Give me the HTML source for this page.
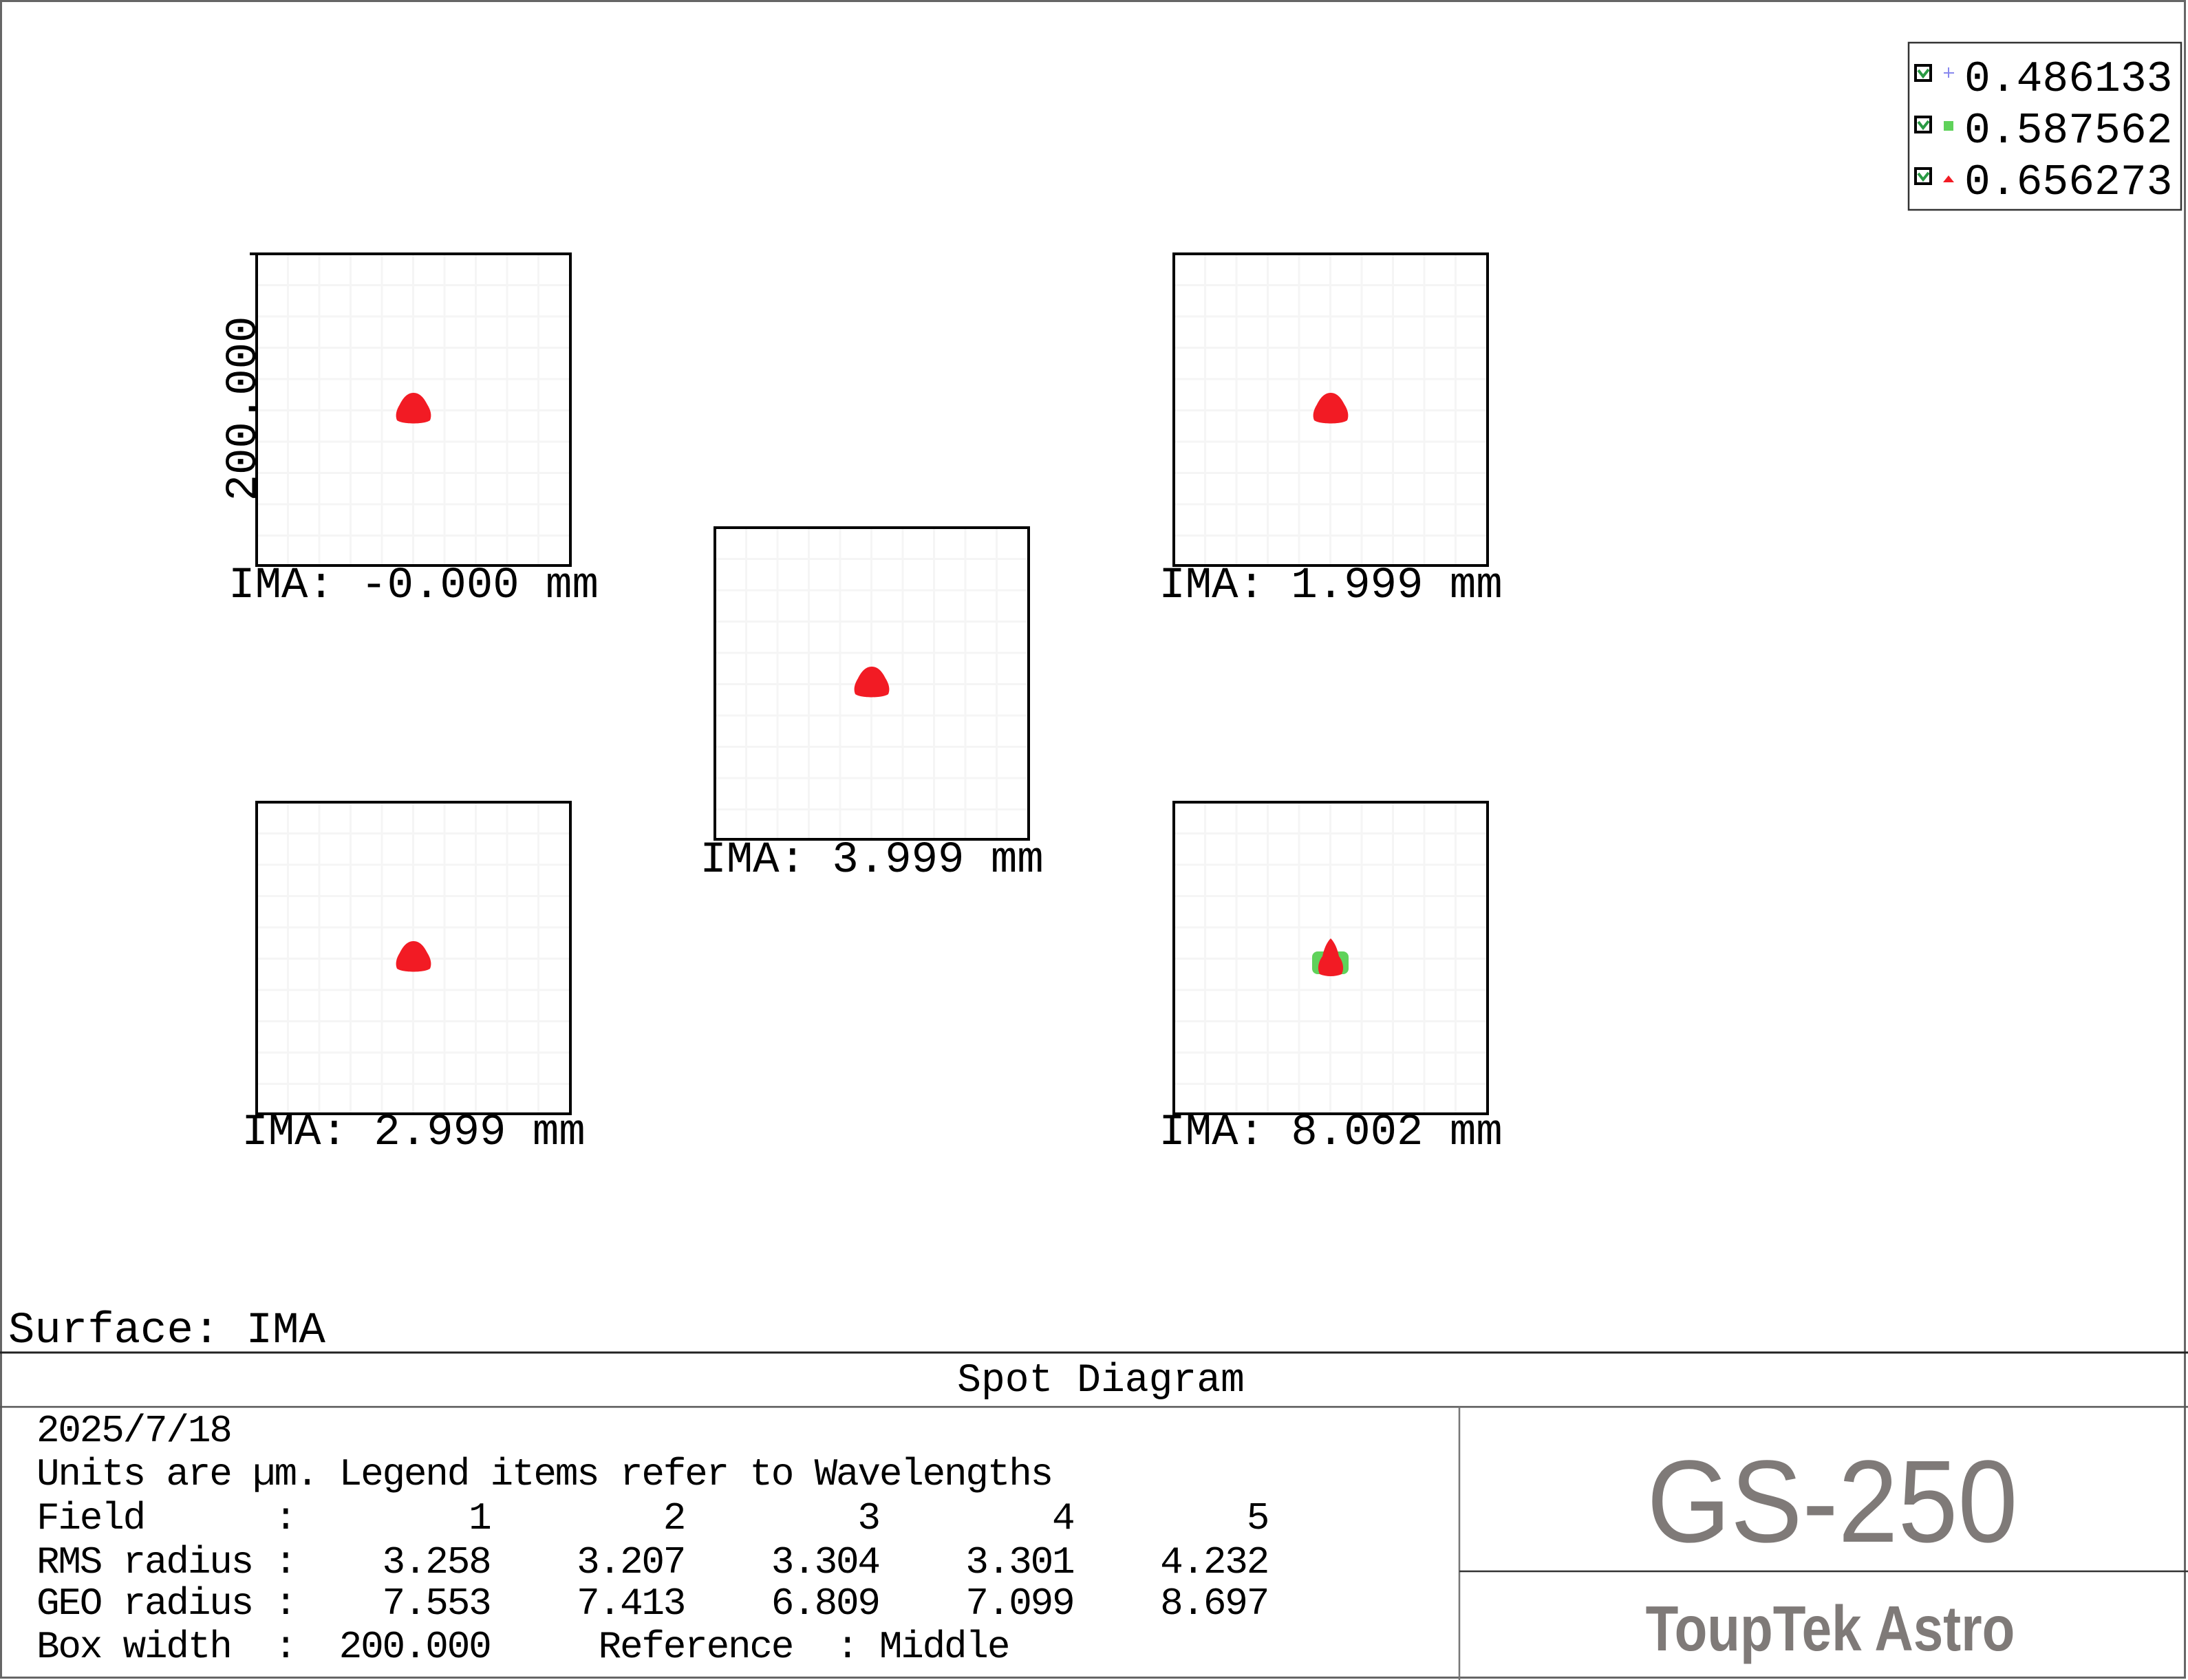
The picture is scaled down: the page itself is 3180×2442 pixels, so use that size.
<!DOCTYPE html>
<html><head><meta charset="utf-8"><style>
html,body{margin:0;padding:0;background:#fff;}
svg{display:block;}
.m{font-family:"Liberation Mono",monospace;fill:#000;}
.p text{white-space:pre;}
</style></head><body>
<svg width="3180" height="2442" viewBox="0 0 3180 2442" xmlns="http://www.w3.org/2000/svg">
<defs>
<g id="grid">
<path d="M45.5 0V455M91 0V455M136.5 0V455M182 0V455M227.5 0V455M273 0V455M318.5 0V455M364 0V455M409.5 0V455M0 45.5H456M0 91H456M0 136.5H456M0 182H456M0 227.5H456M0 273H456M0 318.5H456M0 364H456M0 409.5H456" stroke="#f5f5f5" stroke-width="3" fill="none"/>
<rect x="0" y="0" width="456" height="453" fill="none" stroke="#000" stroke-width="4"/>
</g>
<path id="dot" d="M0 -23 C10 -23 16 -14 20 -6 C25 2 27 10 24 17 C16 23 -16 23 -24 17 C-27 10 -25 2 -20 -6 C-16 -14 -10 -23 0 -23Z" fill="#f21b24"/>
</defs>
<rect x="0" y="0" width="3180" height="2442" fill="#fff"/>
<rect x="1.5" y="1.5" width="3174" height="2437" fill="none" stroke="#666" stroke-width="3"/>

<use href="#grid" x="373" y="369"/>
<use href="#grid" x="1706" y="369"/>
<use href="#grid" x="1039" y="767"/>
<use href="#grid" x="373" y="1166"/>
<use href="#grid" x="1706" y="1166"/>
<line x1="363" y1="369" x2="373" y2="369" stroke="#000" stroke-width="4"/>

<use href="#dot" x="601" y="594"/>
<use href="#dot" x="1934" y="594"/>
<use href="#dot" x="1267" y="992"/>
<use href="#dot" x="601" y="1391"/>
<rect x="1907" y="1383" width="53" height="33" rx="8" fill="#5fd25a"/>
<path d="M1934 1364 C1940 1370 1944 1380 1946 1390 C1952 1398 1954 1408 1950 1416 C1940 1420 1928 1420 1918 1416 C1914 1408 1916 1398 1922 1390 C1924 1380 1928 1370 1934 1364Z" fill="#f21b24"/>

<g class="m" font-size="64" text-anchor="middle">
<text x="601" y="868">IMA: -0.000 mm</text>
<text x="1934" y="868">IMA: 1.999 mm</text>
<text x="1267" y="1267">IMA: 3.999 mm</text>
<text x="601" y="1663">IMA: 2.999 mm</text>
<text x="1934" y="1663">IMA: 8.002 mm</text>
<text x="0" y="0" transform="translate(371,594) rotate(-90)">200.000</text>
</g>

<rect x="2774" y="62" width="396" height="243" fill="#fff" stroke="#333" stroke-width="2.5"/>
<g>
<rect x="2784" y="95" width="22" height="22" fill="#fff" stroke="#000" stroke-width="4"/>
<path d="M2788 102 L2795 111 L2803 101" stroke="#2a9a44" stroke-width="4" fill="none"/>
<rect x="2784" y="170" width="22" height="22" fill="#fff" stroke="#000" stroke-width="4"/>
<path d="M2788 177 L2795 186 L2803 176" stroke="#2a9a44" stroke-width="4" fill="none"/>
<rect x="2784" y="245" width="22" height="22" fill="#fff" stroke="#000" stroke-width="4"/>
<path d="M2788 252 L2795 261 L2803 251" stroke="#2a9a44" stroke-width="4" fill="none"/>
<path d="M2832 98V113M2825 106H2840" stroke="#8888ee" stroke-width="2"/>
<rect x="2825" y="176" width="14" height="14" fill="#5fd25a"/>
<path d="M2832 255 L2840 265 L2824 265Z" fill="#f21b24"/>
</g>
<g class="m" font-size="63">
<text x="2855" y="132">0.486133</text>
<text x="2855" y="207">0.587562</text>
<text x="2855" y="282">0.656273</text>
</g>

<text class="m" x="12" y="1951" font-size="64">Surface: IMA</text>
<line x1="0" y1="1966" x2="3180" y2="1966" stroke="#222" stroke-width="3"/>
<line x1="0" y1="2045" x2="3180" y2="2045" stroke="#555" stroke-width="2.5"/>
<line x1="2121" y1="2045" x2="2121" y2="2442" stroke="#777" stroke-width="2.5"/>
<line x1="2121" y1="2284" x2="3180" y2="2284" stroke="#333" stroke-width="2.5"/>
<text class="m" x="1600" y="2022" font-size="58" text-anchor="middle">Spot Diagram</text>
<g class="m p" font-size="56" letter-spacing="-2.2">
<text x="53" y="2095">2025/7/18</text>
<text x="53" y="2158">Units are µm. Legend items refer to Wavelengths</text>
<text x="53" y="2222">Field&#160;&#160;&#160;&#160;&#160;&#160;:&#160;&#160;&#160;&#160;&#160;&#160;&#160;&#160;1&#160;&#160;&#160;&#160;&#160;&#160;&#160;&#160;2&#160;&#160;&#160;&#160;&#160;&#160;&#160;&#160;3&#160;&#160;&#160;&#160;&#160;&#160;&#160;&#160;4&#160;&#160;&#160;&#160;&#160;&#160;&#160;&#160;5</text>
<text x="53" y="2286">RMS&#160;radius&#160;:&#160;&#160;&#160;&#160;3.258&#160;&#160;&#160;&#160;3.207&#160;&#160;&#160;&#160;3.304&#160;&#160;&#160;&#160;3.301&#160;&#160;&#160;&#160;4.232</text>
<text x="53" y="2346">GEO&#160;radius&#160;:&#160;&#160;&#160;&#160;7.553&#160;&#160;&#160;&#160;7.413&#160;&#160;&#160;&#160;6.809&#160;&#160;&#160;&#160;7.099&#160;&#160;&#160;&#160;8.697</text>
<text x="53" y="2409">Box&#160;width&#160;&#160;:&#160;&#160;200.000&#160;&#160;&#160;&#160;&#160;Reference&#160;&#160;:&#160;Middle</text>
</g>
<text x="2663" y="2241" font-family="Liberation Sans, sans-serif" font-size="170" fill="#7f7a78" text-anchor="middle" transform="translate(2663,0) scale(0.92,1) translate(-2663,0)">GS-250</text>
<text x="2660" y="2399" font-family="Liberation Sans, sans-serif" font-weight="bold" font-size="93" fill="#7f7a78" text-anchor="middle" transform="translate(2660,0) scale(0.84,1) translate(-2660,0)">ToupTek Astro</text>
</svg>
</body></html>
